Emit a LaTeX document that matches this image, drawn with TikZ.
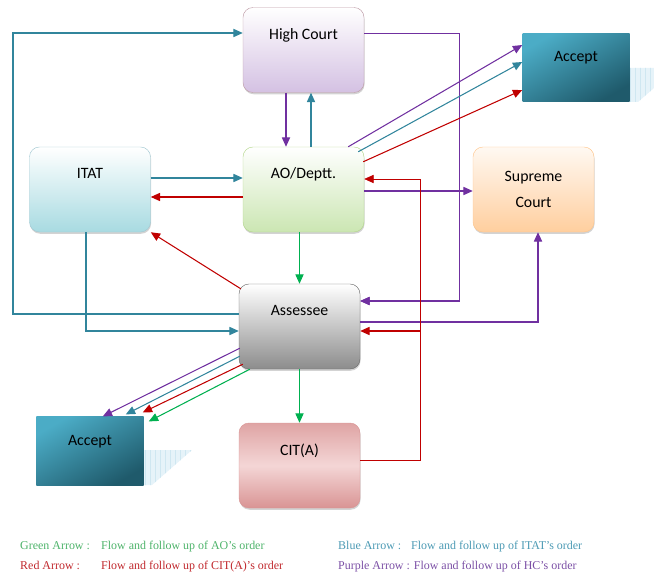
\documentclass[tikz,border=0pt]{standalone}
\usepackage{fontspec}
\setmainfont{Carlito}
\newfontfamily\legendfont{Liberation Serif}
\usepackage{tikz}
\usetikzlibrary{arrows.meta,calc,shadows}

\definecolor{grnarrow}{HTML}{00B050}
\definecolor{rdarrow}{HTML}{C00000}
\definecolor{bluarrow}{HTML}{31859C}
\definecolor{purarrow}{HTML}{7030A0}
\definecolor{lggreen}{HTML}{4DB36A}
\definecolor{lgred}{HTML}{C0282D}
\definecolor{lgblue}{HTML}{4C9AB4}
\definecolor{lgpurple}{HTML}{7B4FA5}
\definecolor{acclight}{HTML}{4BACC6}
\definecolor{accdark}{HTML}{1F5A6B}
\definecolor{gridfill}{HTML}{E6F3F9}
\definecolor{gridline}{HTML}{CFE7F1}
\definecolor{citedge}{HTML}{D99494}
\definecolor{citmid}{HTML}{F4D6D6}

\tikzset{
    box/.style={draw, rounded corners=0.3cm, minimum width=3.63cm, minimum height=2.55cm,
        inner sep=0pt, font=\fontsize{13.5}{22}\selectfont,
        drop shadow={opacity=0.35, shadow xshift=0.5pt, shadow yshift=-1.5pt}},
    toptext/.style={text height=0.96cm, text depth=1.59cm},
    hcbox/.style={draw=purple!30!gray!60, top color=white, bottom color=purarrow!30},
    itatbox/.style={draw=bluarrow!45, top color=white, bottom color=cyan!25!bluarrow!40},
    aobox/.style={draw=green!30!olive!45, top color=white, bottom color=green!35!olive!30},
    scbox/.style={draw=orange!45, top color=orange!5, bottom color=orange!38},
    asbox/.style={draw=gray!85!black, top color=white, bottom color=gray!90},
    citbox/.style={draw=citedge, top color=citedge!85, bottom color=citedge, middle color=citmid},
    accept/.style={rectangle, minimum width=3.21cm, minimum height=2.06cm, inner sep=0pt,
        text height=0.86cm, text depth=1.2cm, font=\fontsize{13.5}{16}\selectfont,
        top color=acclight, bottom color=accdark, shading angle=30},
    grn/.style={->, draw=grnarrow, line width=0.9pt},
    rd/.style={->, draw=rdarrow, line width=0.9pt},
    blu/.style={->, draw=bluarrow, line width=0.9pt},
    pur/.style={->, draw=purarrow, line width=0.9pt},
    thin line/.style={line width=0.5pt},
    legend/.style={inner sep=0pt, anchor=base west, font=\legendfont\fontsize{10.2}{12}\selectfont}
}

\begin{document}
\begin{tikzpicture}[x=0.03cm, y=-0.03cm, >={Triangle[length=8pt, width=7pt]}]
    \useasboundingbox (0,0) rectangle (654,573);

    \begin{scope}
        \clip (630,68) -- (654,68) -- (654,88) -- (638,102) -- (630,102) -- cycle;
        \fill[gridfill] (620,60) rectangle (660,110);
        \draw[gridline, line width=0.3pt, step=5] (620,60) grid (660,110);
    \end{scope}
    \begin{scope}
        \clip (143,450) -- (192,450) -- (152,485) -- (143,485) -- cycle;
        \fill[gridfill] (140,445) rectangle (195,490);
        \draw[gridline, line width=0.3pt, step=5] (140,445) grid (195,490);
    \end{scope}

    \node[box, toptext, hcbox] at (303.5, 50) (hc) {High Court};
    \node[box, toptext, itatbox] at (90, 189.5) (itat) {ITAT};
    \node[box, toptext, aobox] at (303.5, 189.5) (ao) {AO/Deptt.};
    \node[box, scbox, align=center] at (533.5, 189.5) (sc) {Supreme\\Court};
    \node[box, toptext, asbox] at (299.5, 326.5) (as) {Assessee};
    \node[box, toptext, citbox] at (299.5, 465.5) (cit) {CIT(A)};
    \node[accept] at (576, 67.5) (acc 1) {Accept};
    \node[accept] at (90, 451) (acc 2) {Accept};

    \draw[pur] ($(hc.south)+(-17.5,0)$) -- ($(ao.north)+(-17.5,0)$);
    \draw[blu] ($(ao.north)+(7.5,0)$) -- ($(hc.south)+(7.5,0)$);
    \draw[blu] ($(itat.east)+(0,-11.5)$) -- ($(ao.west)+(0,-11.5)$);
    \draw[rd] ($(ao.west)+(0,7.5)$) -- ($(itat.east)+(0,7.5)$);
    \draw[pur] ($(ao.east)+(0,1.5)$) -- ($(sc.west)+(0,1.5)$);
    \draw[grn] (ao.south -| as.north) -- (as.north);
    \draw[grn] (as.south) -- (cit.north);
    \draw[rd] ($(as.north west)+(2,5)$) -- (itat.south east);
    \draw[blu] ($(itat.south)+(-4,0)$) |- ($(as.west)+(0,4.5)$);

    \coordinate (left turn) at (13, 0);
    \coordinate (hc in) at ($(hc.west)+(0,-17)$);
    \draw[blu] ($(as.west)+(0,-12.5)$) -| (left turn |- hc in) -- (hc in);

    \coordinate (hc turn) at (459, 0);
    \coordinate (hc out) at ($(hc.east)+(0,-17)$);
    \coordinate (as in) at ($(as.east)+(0,-25.5)$);
    \draw[pur, thin line] (hc out) -| (hc turn |- as in) -- (as in);
    \draw[pur] (hc turn |- as in) -- (as in);
    \draw[pur] ($(as.east)+(0,-4.5)$) -| ($(sc.south)+(4.5,0)$);

    \coordinate (cit turn) at (420, 0);
    \coordinate (ao in) at ($(ao.east)+(0,-10.5)$);
    \coordinate (as red) at ($(as.east)+(0,4.5)$);
    \draw[rd, thin line] ($(cit.east)+(0,-5.5)$) -| (cit turn |- ao in) -- (ao in);
    \draw[rd] (cit turn |- as red) -- (as red);

    \foreach \col/\sx/\sy/\ty in {pur/-16/0/-22.5, blu/-6/5/-5.5, rd/-1/15/22.5}
    \draw[\col] ($(ao.north east)+(\sx,\sy)$) -- ($(acc 1.west)+(0,\ty)$);

    \foreach \col/\sx/\sy/\tx/\ty in {pur/1/-21/-41/0, blu/1/-13/-18/-2, rd/4/-5/-1/-4, grn/11/0/5/5}
    \draw[\col] ($(as.south west)+(\sx,\sy)$) -- ($(acc 2.north east)+(\tx,\ty)$);

    \node[legend, text=lggreen] at (20, 549) (green key) {Green Arrow :};
    \node[legend, text=lggreen] at (101, 549) (green text) {Flow and follow up of AO’s order};
    \node[legend, text=lgblue] at (338, 549) (blue key) {Blue Arrow :};
    \node[legend, text=lgblue] at (411, 549) (blue text) {Flow and follow up of ITAT’s order};
    \node[legend, text=lgred] at (20, 569) (red key) {Red Arrow :};
    \node[legend, text=lgred] at (101, 569) (red text) {Flow and follow up of CIT(A)’s order};
    \node[legend, text=lgpurple] at (338, 569) (purple key) {Purple Arrow : Flow and follow up of HC’s order};
\end{tikzpicture}
\end{document}
